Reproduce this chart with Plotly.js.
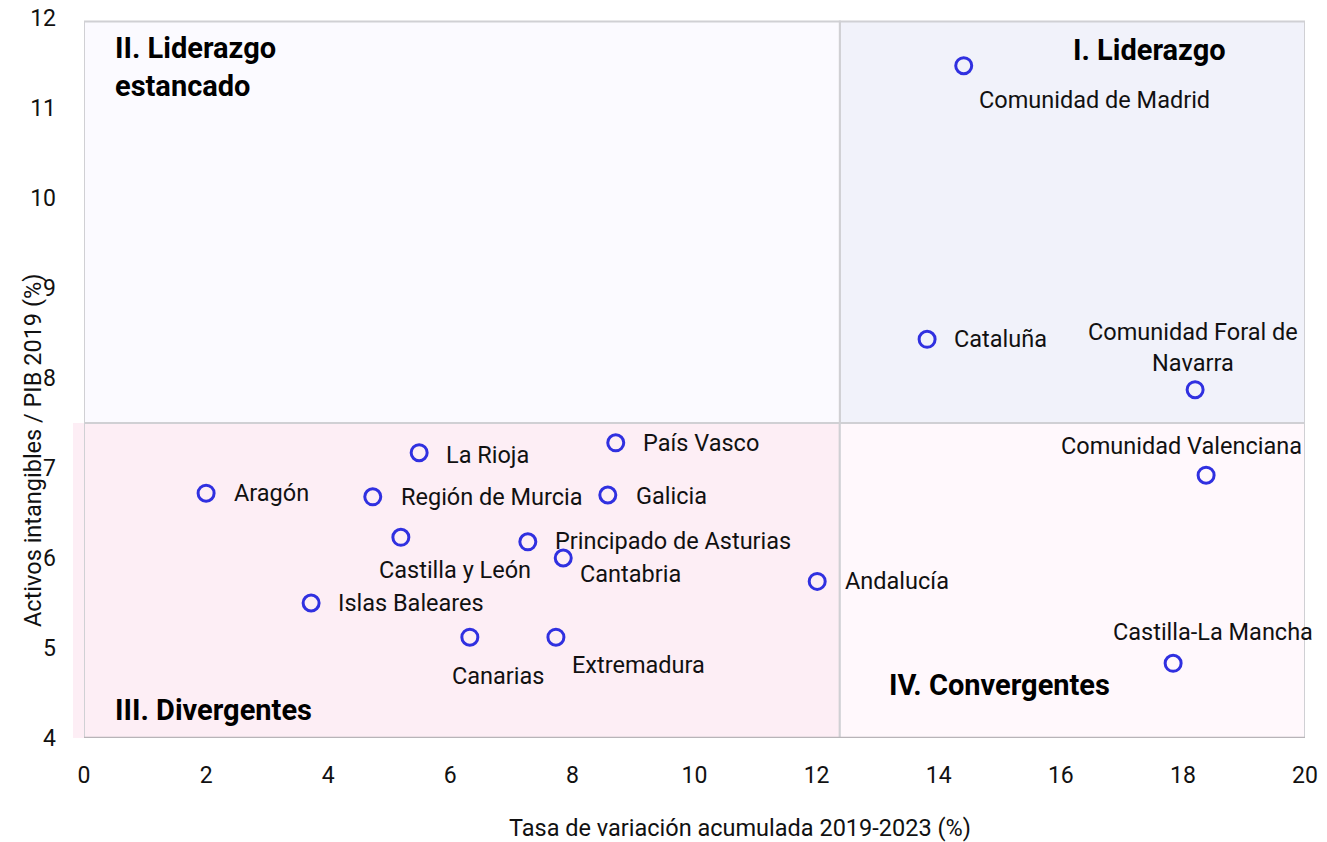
<!DOCTYPE html>
<html>
<head>
<meta charset="utf-8">
<script src="https://cdn.plot.ly/plotly-3.0.1.min.js"></script>
<style>html,body{margin:0;padding:0;background:#fff}#chart{width:1327px;height:842px}</style>
</head>
<body>
<div id="chart"></div>
<script>
// Data
const regions = ["Comunidad de Madrid","Cataluña","Comunidad Foral de Navarra","Comunidad Valenciana","Castilla-La Mancha","Andalucía","País Vasco","La Rioja","Aragón","Región de Murcia","Galicia","Castilla y León","Principado de Asturias","Cantabria","Islas Baleares","Canarias","Extremadura"];
const variacion = [14.41, 13.81, 18.20, 18.38, 17.84, 12.01, 8.71, 5.49, 2.00, 4.73, 8.58, 5.19, 7.27, 7.85, 3.72, 6.32, 7.73];
const intangibles = [11.47, 8.43, 7.87, 6.92, 4.83, 5.74, 7.28, 7.17, 6.72, 6.68, 6.70, 6.23, 6.18, 6.00, 5.50, 5.12, 5.12];
const labelText = ["Comunidad de Madrid","Cataluña","Comunidad Foral de<br>Navarra","Comunidad Valenciana","Castilla-La Mancha","Andalucía","País Vasco","La Rioja","Aragón","Región de Murcia","Galicia","Castilla y León","Principado de Asturias","Cantabria","Islas Baleares","Canarias","Extremadura"];
const xDivider = 12.38;
const yDivider = 7.5;
const quadrantNames = ["I. Liderazgo","II. Liderazgo<br>estancado","III. Divergentes","IV. Convergentes"];
const xTitle = "Tasa de variación acumulada 2019-2023 (%)";
const yTitle = "Activos intangibles / PIB 2019 (%)";

// Label placement (style): [xanchor, xshift, yshift]
const placement = {
  "Comunidad de Madrid": ["left",13,-34],
  "Cataluña": ["left",25,0],
  "Comunidad Foral de Navarra": ["center",-2,42],
  "Comunidad Valenciana": ["center",-25,29],
  "Castilla-La Mancha": ["center",40,31],
  "Andalucía": ["left",26,0],
  "País Vasco": ["left",25,0],
  "La Rioja": ["left",25,-2],
  "Aragón": ["left",26,0],
  "Región de Murcia": ["left",26,0],
  "Galicia": ["left",26,-1],
  "Castilla y León": ["center",54,-33],
  "Principado de Asturias": ["left",25,1],
  "Cantabria": ["left",15,-16],
  "Islas Baleares": ["left",25,0],
  "Canarias": ["center",28,-39],
  "Extremadura": ["left",14,-28]
};

const trace = {
  x: variacion, y: intangibles, mode: "markers", type: "scatter",
  marker: {symbol: "circle-open", size: 16, color: "#3030e0", line: {width: 3, color: "#3030e0"}},
  hoverinfo: "text", text: regions, cliponaxis: false
};

const annotations = regions.map((r, i) => {
  const p = placement[r];
  return {x: variacion[i], y: intangibles[i], xref: "x", yref: "y", text: labelText[i], showarrow: false,
    xanchor: p[0], yanchor: "middle", xshift: p[1], yshift: p[2], align: "center",
    font: {family: "Roboto", size: 23.5, color: "#111"}};
});
const qfont = {family: "Roboto", size: 29, color: "#000"};
annotations.push({x: 18.74, y: 11.64, xref: "x", yref: "y", text: "<b>" + quadrantNames[0] + "</b>", showarrow: false, xanchor: "right", yanchor: "middle", font: qfont});
annotations.push({x: 0.475, y: 11.46, xref: "x", yref: "y", text: "<b>" + quadrantNames[1] + "</b>", showarrow: false, xanchor: "left", yanchor: "middle", align: "left", font: qfont});
annotations.push({x: 0.475, y: 4.31, xref: "x", yref: "y", text: "<b>" + quadrantNames[2] + "</b>", showarrow: false, xanchor: "left", yanchor: "middle", font: qfont});
annotations.push({x: 13.15, y: 4.59, xref: "x", yref: "y", text: "<b>" + quadrantNames[3] + "</b>", showarrow: false, xanchor: "left", yanchor: "middle", font: qfont});
// axis titles
annotations.push({x: 0.537, y: -0.125, xref: "paper", yref: "paper", text: xTitle, showarrow: false, xanchor: "center", yanchor: "middle", font: {family: "Roboto", size: 23.5, color: "#111"}});
annotations.push({x: -0.0418, y: 0.40, xref: "paper", yref: "paper", text: yTitle, showarrow: false, textangle: -90, xanchor: "center", yanchor: "middle", font: {family: "Roboto", size: 23.5, color: "#111"}});

const border = {color: "#d0d0d4", width: 2};
const shapes = [
  {type: "rect", xref: "x", yref: "y", x0: xDivider, x1: 20, y0: yDivider, y1: 11.96, fillcolor: "#f1f2fa", line: border, layer: "below"},
  {type: "rect", xref: "x", yref: "y", x0: 0, x1: xDivider, y0: yDivider, y1: 11.96, fillcolor: "#fbfaff", line: border, layer: "below"},
  {type: "rect", xref: "paper", yref: "y", x0: -0.009, x1: 0.01, y0: 4, y1: yDivider, fillcolor: "#fdeef5", line: {width: 0}, layer: "below"},
  {type: "rect", xref: "x", yref: "y", x0: 0, x1: xDivider, y0: 4, y1: yDivider, fillcolor: "#fdeef5", line: border, layer: "below"},
  {type: "rect", xref: "x", yref: "y", x0: xDivider, x1: 20, y0: 4, y1: yDivider, fillcolor: "#fff8fc", line: border, layer: "below"},
  {type: "line", xref: "x", yref: "y", x0: 0, x1: 20, y0: 4, y1: 4, line: {color: "#b8b4b8", width: 2.5}, layer: "below"}
];

const layout = {
  width: 1327, height: 842,
  margin: {l: 84, r: 22, t: 18, b: 104},
  paper_bgcolor: "#fff", plot_bgcolor: "#fff",
  showlegend: false,
  font: {family: "Roboto", size: 23, color: "#111"},
  xaxis: {range: [0, 20], dtick: 2, tick0: 0, showgrid: false, zeroline: false, showline: false, ticks: "", ticklen: 0,
    ticklabelstandoff: 21, automargin: false,
    tickfont: {family: "Roboto", size: 23, color: "#111"}},
  yaxis: {range: [4, 12], dtick: 1, tick0: 4, showgrid: false, zeroline: false, showline: false, ticks: "", ticklen: 0,
    ticklabelstandoff: 27, automargin: false,
    tickfont: {family: "Roboto", size: 23, color: "#111"}},
  shapes: shapes,
  annotations: annotations
};
Plotly.newPlot("chart", [trace], layout, {displayModeBar: false, staticPlot: true});
</script>
</body>
</html>
